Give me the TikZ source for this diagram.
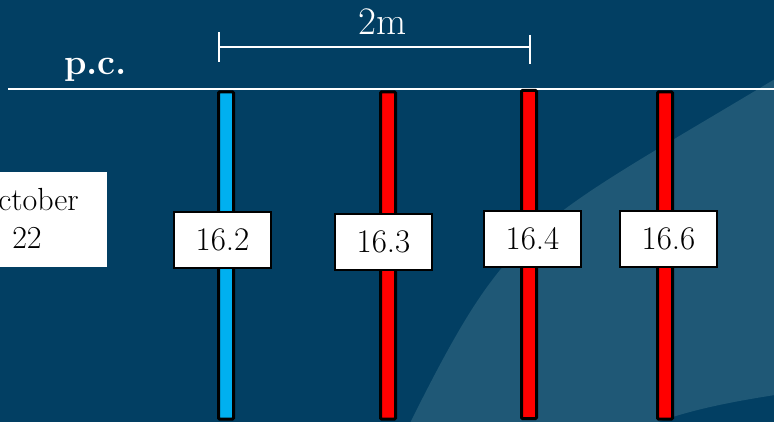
\documentclass[tikz,border=0pt]{standalone}
\usepackage{fontspec}
\definecolor{bgdark}{RGB}{2,63,99}
\definecolor{bglight}{RGB}{31,88,118}
\definecolor{poleblue}{RGB}{0,176,240}
\definecolor{polered}{RGB}{255,0,0}
\begin{document}
\begin{tikzpicture}[x=1pt,y=-1pt,
  pole/.style={draw=black,line width=3pt,rectangle,rounded corners=1pt,minimum width=15pt,inner sep=0pt},
  tempbox/.style={draw=black,fill=white,line width=1.8pt,rectangle,minimum width=97pt,minimum height=56pt,inner sep=0pt,font=\fontsize{33}{33}\selectfont},
  wline/.style={draw=white,line width=1.6pt}]
\useasboundingbox (0,0) rectangle (774,422);
\fill[bgdark] (0,0) rectangle (774,422);
% lighter swoosh
\fill[bglight] (410,423) .. controls (510,223) and (525,229) .. (775,79)
  -- (775,395) .. controls (730,402) and (690,410) .. (655,423) -- cycle;
% ground line
\coordinate (gl) at (8,89);
\coordinate (gr) at (774,89);
\draw[wline,line width=2pt] (gl) -- (gr);
% dimension
\coordinate (dl) at (219,47);
\coordinate (dr) at (530,47);
\coordinate (dlt) at (219,32);
\coordinate (dlb) at (219,62);
\coordinate (drt) at (530,35);
\coordinate (drb) at (530,64);
\draw[wline] (dlt) -- (dlb);
\draw[wline] (drt) -- (drb);
\draw[wline] (dl) -- (dr);
\node[text=white,anchor=base,inner sep=0pt,font=\fontsize{39}{39}\selectfont] (dim) at (383,35) {2m};
\node[text=white,anchor=base west,inner sep=0pt,font=\fontsize{36}{36}\selectfont\bfseries] (pc) at (64,75) {p.c.};
% date box
\fill[white] (-60,172) rectangle (107,267);
\node[anchor=base,inner sep=0pt,align=center,font=\fontsize{32}{39}\selectfont] (date) at (27,249) {October\\22};
% poles
\node[pole,fill=poleblue,minimum height=327pt] (p1) at (226,255.5) {};
\node[pole,fill=polered,minimum height=327pt] (p2) at (388,255.5) {};
\node[pole,fill=polered,minimum height=328pt] (p3) at (529,254.5) {};
\node[pole,fill=polered,minimum height=327pt] (p4) at (665,255.5) {};
% temperature boxes
\node[tempbox] (t1) at (222.5,240) {16.2};
\node[tempbox] (t2) at (383.5,242) {16.3};
\node[tempbox] (t3) at (532.5,239) {16.4};
\node[tempbox] (t4) at (668.5,239) {16.6};
\end{tikzpicture}
\end{document}
